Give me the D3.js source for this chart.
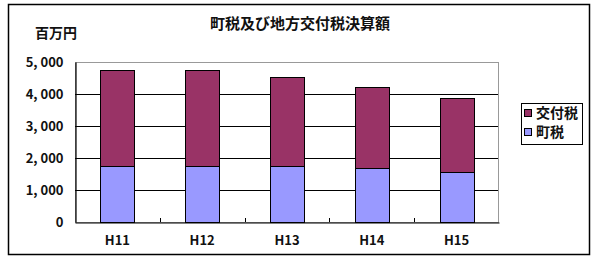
<!DOCTYPE html>
<html>
<head>
<meta charset="utf-8">
<script src="https://cdn.jsdelivr.net/npm/d3@7"></script>
<style>
  body { margin: 0; background: #fff; }
  text { font-family: "Noto Sans CJK JP", "Liberation Sans", sans-serif; fill: #111; }
</style>
</head>
<body>
<div id="chart"></div>
<script>
/* DATA */
const years = ["H11", "H12", "H13", "H14", "H15"];
const chozei = [1750, 1750, 1750, 1680, 1560];       // 町税
const kofuzei = [3000, 3000, 2790, 2550, 2305];      // 交付税
const yTicks = [0, 1000, 2000, 3000, 4000, 5000];
const seriesNames = ["町税", "交付税"];
const seriesColors = ["#9999ff", "#993366"];

const width = 600, height = 265;
const plot = { left: 75, right: 499, top: 62, bottom: 222 };

const svg = d3.select("#chart").append("svg")
  .attr("width", width)
  .attr("height", height);

// outer frame
svg.append("rect")
  .attr("x", 8.5).attr("y", 4.5)
  .attr("width", 581).attr("height", 250)
  .attr("fill", "#fff")
  .attr("stroke", "#000")
  .attr("stroke-width", 1.5);

const rows = years.map((y, i) => ({ year: y, "町税": chozei[i], "交付税": kofuzei[i] }));
const stacked = d3.stack().keys(seriesNames)(rows);

const x = d3.scaleBand()
  .domain(years)
  .range([plot.left, plot.right])
  .paddingInner(0.6)
  .paddingOuter(0.3);

const y = d3.scaleLinear()
  .domain([0, 5000])
  .range([plot.bottom, plot.top]);

// plot area border (gray)
svg.append("rect")
  .attr("x", plot.left + 0.5).attr("y", plot.top + 0.5)
  .attr("width", plot.right - plot.left - 1)
  .attr("height", plot.bottom - plot.top)
  .attr("fill", "none")
  .attr("stroke", "#999");

// gridlines
svg.append("g")
  .selectAll("line")
  .data(yTicks.filter(d => d > 0 && d < 5000))
  .join("line")
  .attr("x1", plot.left).attr("x2", plot.right - 1)
  .attr("y1", d => Math.round(y(d)) + 0.5)
  .attr("y2", d => Math.round(y(d)) + 0.5)
  .attr("stroke", "#000");

// bars
svg.append("g")
  .selectAll("g")
  .data(stacked)
  .join("g")
  .attr("fill", (d, i) => seriesColors[i])
  .selectAll("rect")
  .data(d => d)
  .join("rect")
  .attr("x", d => Math.round(x(d.data.year)) + 0.5)
  .attr("y", d => Math.round(y(d[1])) + 0.5)
  .attr("width", Math.round(x.bandwidth()))
  .attr("height", d => Math.round(y(d[0])) - Math.round(y(d[1])))
  .attr("stroke", "#000")
  .attr("stroke-width", 1);

// y axis
const yAxis = d3.axisLeft(y)
  .tickValues(yTicks)
  .tickSize(0)
  .tickPadding(12)
  .tickFormat(d => d3.format(",")(d).replace(",", ", "));

svg.append("g")
  .attr("transform", `translate(${plot.left + 0.5},0)`)
  .call(yAxis)
  .call(g => g.select(".domain").attr("stroke", "#000").attr("stroke-width", 1.2))
  .call(g => g.selectAll("text")
    .attr("font-size", 13).attr("font-weight", "bold")
    .attr("font-family", "'Liberation Sans', sans-serif")
    .style("white-space", "pre"));

// x axis
const xAxis = d3.axisBottom(x).tickSize(0).tickPadding(13);

svg.append("g")
  .attr("transform", `translate(0,${plot.bottom + 0.5})`)
  .call(xAxis)
  .call(g => g.select(".domain").attr("stroke", "#000").attr("stroke-width", 1.2))
  .call(g => g.selectAll("text")
    .attr("font-size", 13).attr("font-weight", "bold")
    .attr("font-family", "'Liberation Sans', sans-serif"));

// category divider ticks (pointing up)
svg.append("g")
  .selectAll("line")
  .data(years.slice(1))
  .join("line")
  .attr("x1", d => Math.round(x(d) - x.step() * x.paddingInner() / 2) + 0.5)
  .attr("x2", d => Math.round(x(d) - x.step() * x.paddingInner() / 2) + 0.5)
  .attr("y1", plot.bottom - 4)
  .attr("y2", plot.bottom)
  .attr("stroke", "#000");

// title
svg.append("text")
  .attr("x", 300).attr("y", 29)
  .attr("text-anchor", "middle")
  .attr("font-size", 15)
  .attr("font-weight", "bold")
  .text("町税及び地方交付税決算額");

// unit label
svg.append("text")
  .attr("x", 35).attr("y", 38)
  .attr("font-size", 14)
  .attr("font-weight", "bold")
  .text("百万円");

// legend
const legend = svg.append("g").attr("transform", "translate(521,103)");
legend.append("rect")
  .attr("x", 0.5).attr("y", 0.5)
  .attr("width", 61).attr("height", 41)
  .attr("fill", "#fff")
  .attr("stroke", "#000");

const legendItems = [
  { name: seriesNames[1], color: seriesColors[1] },
  { name: seriesNames[0], color: seriesColors[0] }
];

const item = legend.selectAll(".item")
  .data(legendItems)
  .join("g")
  .attr("class", "item")
  .attr("transform", (d, i) => `translate(3,${10 + i * 19})`);

item.append("rect")
  .attr("x", 0.5).attr("y", -3.5)
  .attr("width", 7).attr("height", 7)
  .attr("fill", d => d.color)
  .attr("stroke", "#000");

item.append("text")
  .attr("x", 12).attr("y", 5)
  .attr("font-size", 14)
  .attr("font-weight", "bold")
  .text(d => d.name);
</script>
</body>
</html>
